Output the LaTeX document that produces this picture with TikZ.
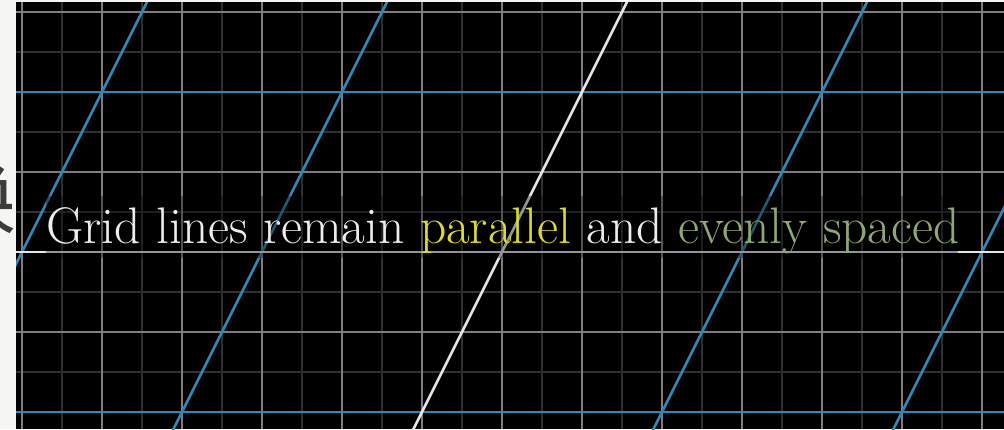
\documentclass[tikz,border=0pt]{standalone}
\usepackage{fontspec}
\usetikzlibrary{calc}
\newfontfamily\cjkfont{Noto Sans CJK SC}
\definecolor{paper}{HTML}{F5F6F1}
\definecolor{inkgrey}{HTML}{3C3C3C}
\definecolor{gridmajor}{HTML}{7E7E7E}
\definecolor{gridminor}{HTML}{303030}
\definecolor{basisblue}{HTML}{2F8AB2}
\definecolor{axiswhite}{HTML}{E6E6E6}
\definecolor{capwhite}{HTML}{EDEDED}
\definecolor{capyellow}{HTML}{DCDC2A}
\definecolor{capgreen}{HTML}{8EA874}

\begin{document}
\begin{tikzpicture}[
  x=1pt, y=-1pt,
  major/.style={draw=gridmajor, line width=1.5pt},
  minor/.style={draw=gridminor, line width=1.2pt},
  basis/.style={draw=basisblue, line width=2.6pt},
  axis/.style={draw=axiswhite, line width=2.6pt},
  caption/.style={anchor=base west, inner sep=0pt, text=capwhite,
                  font=\fontsize{51.4}{54}\selectfont}
]
\useasboundingbox (0,0) rectangle (1004,429);
\fill[paper] (0,0) rectangle (1004,429);
% cut-off character on the left margin
\begin{scope}
  \clip (0,0) rectangle (16,429);
  \node[anchor=east, inner sep=0pt, text=inkgrey,
        font=\cjkfont\fontsize{80}{80}\selectfont] (hanzi) at (17,197) {换};
\end{scope}
\fill[black] (16,2) rectangle (1004,429);
\begin{scope}
  \clip (16,2) rectangle (1004,429);
  % background grid
  \foreach \x in {62,142,...,1002} \draw[minor] (\x,0) -- (\x,429);
  \foreach \y in {52,132,...,372} \draw[minor] (0,\y) -- (1004,\y);
  \foreach \x in {22,102,...,982} \draw[major] (\x,0) -- (\x,429);
  \foreach \y in {12,92,...,412} \draw[major] (0,\y) -- (1004,\y);
  % transformed grid
  \foreach \y in {92,412} \draw[basis] (0,\y) -- (1004,\y);
  \foreach \x in {22,262,742,982} \draw[basis] (\x+131,-10) -- (\x-94,440);
  % axes
  \coordinate (origin) at (502,252);
  \draw[axis] (0,252) -- (1004,252);
  \draw[axis] ($(origin)+(131,-262)$) -- ($(origin)+(-94,188)$);
\end{scope}
\fill[black, opacity=0.35] (46,196) rectangle (958,258);
\node[caption] (label) at (46,243)
  {Grid lines remain \textcolor{capyellow}{parallel} and \textcolor{capgreen}{evenly spaced}};
\end{tikzpicture}
\end{document}
